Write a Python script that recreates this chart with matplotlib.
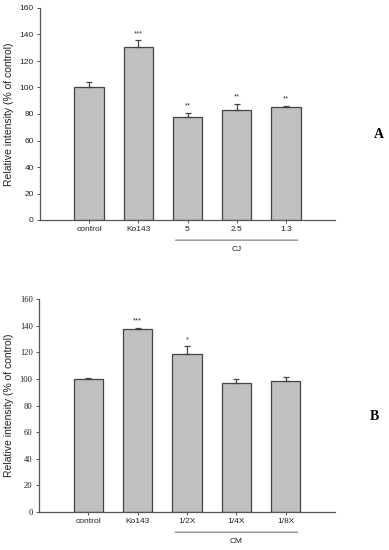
import matplotlib
matplotlib.use("Agg")
import matplotlib.pyplot as plt
import numpy as np

plt.rcParams["font.family"] = ["Liberation Sans", "DejaVu Sans"]

cats_a = ["control", "Ko143", "5", "2.5", "1.3"]
vals_a = [100, 130.6, 78, 82.8, 85]
errs_a = [4, 5, 2.7, 5, 1]
stars_a = ["", "***", "**", "**", "**"]
group_a = "CJ"

cats_b = ["control", "Ko143", "1/2X", "1/4X", "1/8X"]
vals_b = [100.2, 137.5, 118.9, 96.8, 98.8]
errs_b = [0.6, 1.2, 5.8, 3.5, 2.5]
stars_b = ["", "***", "*", "", ""]
group_b = "CM"

yticks = [0, 20, 40, 60, 80, 100, 120, 140, 160]

W, H = 389, 550
fig = plt.figure(figsize=(W / 100, H / 100), dpi=100)

face = "#c0c0c0"
edge = "#444444"
axc = "#555555"

def panel(rect, cats, vals, errs, stars, group, letter, letter_xy, serif_ticks, group_y):
    ax = fig.add_axes(rect)
    x = np.arange(len(cats))
    ax.bar(x, vals, width=0.6, color=face, edgecolor=edge, linewidth=0.9, zorder=2)
    ax.errorbar(x, vals, yerr=[np.zeros(len(errs)), errs], fmt="none",
                ecolor=edge, elinewidth=0.9, capsize=2.5, capthick=0.9, zorder=3)
    for xi, v, e, s in zip(x, vals, errs, stars):
        if s:
            ax.text(xi, v + e + 2.5, s, ha="center", va="bottom", fontsize=5.5, color="#333333")
    ax.set_xlim(-1, 5)
    ax.set_ylim(0, 160)
    ax.set_yticks(yticks)
    ax.set_xticks(x)
    ax.set_xticklabels(cats, fontsize=6, color="#222222")
    if serif_ticks:
        ax.set_yticklabels([str(t) for t in yticks], fontsize=6.2, family="Liberation Serif", color="#222222")
    else:
        ax.set_yticklabels([str(t) for t in yticks], fontsize=6, color="#222222")
    for s in ["top", "right"]:
        ax.spines[s].set_visible(False)
    for s in ["left", "bottom"]:
        ax.spines[s].set_color(axc)
        ax.spines[s].set_linewidth(0.9)
    ax.tick_params(axis="both", length=2.5, width=0.7, color=axc, pad=2)
    ax.set_ylabel("Relative intensity (% of control)", fontsize=7.5, color="#222222", labelpad=4)
    # group line
    ax.annotate("", xy=(1.7, group_y), xycoords=("data", "axes fraction"),
                xytext=(4.3, group_y), textcoords=("data", "axes fraction"),
                arrowprops=dict(arrowstyle="-", color="#777777", lw=0.8),
                annotation_clip=False)
    ax.text(3, group_y - 0.045, group, transform=ax.get_xaxis_transform(),
            ha="center", va="center", fontsize=6, color="#222222")
    fig.text(letter_xy[0] / W, 1 - letter_xy[1] / H, letter, fontsize=10,
             family="Liberation Serif", weight="bold", ha="center", va="center")
    return ax

panel([40 / W, 1 - 220 / H, 295 / W, 212 / H], cats_a, vals_a, errs_a, stars_a,
      group_a, "A", (379, 135), False, -0.095)
panel([39 / W, 1 - 512 / H, 296 / W, 212.7 / H], cats_b, vals_b, errs_b, stars_b,
      group_b, "B", (374, 416), True, -0.095)

fig.savefig("out.png", dpi=100)
